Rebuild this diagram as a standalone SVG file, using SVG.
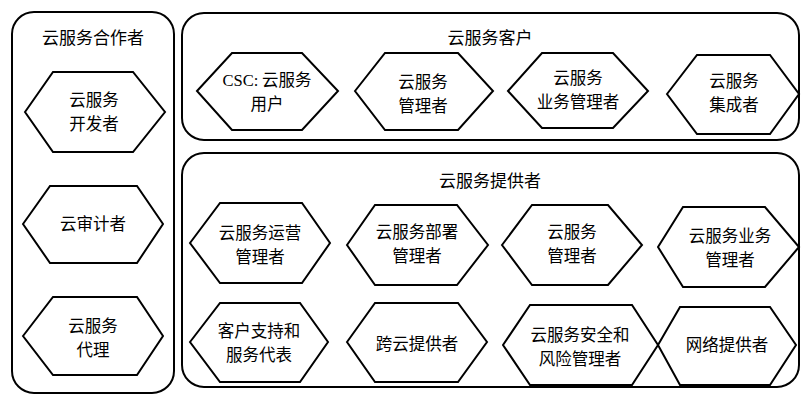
<svg xmlns="http://www.w3.org/2000/svg" width="802" height="396" viewBox="0 0 802 396">
<style>
.panel{fill:#fff;stroke:#000;stroke-width:2}
.hex{fill:#fff;stroke:#000;stroke-width:2;stroke-linejoin:miter}
text{font-family:"Noto Sans CJK SC","Liberation Sans",sans-serif;font-size:16.5px;fill:#000;text-anchor:middle}
.t{font-size:17px}
.lat{font-family:"Liberation Serif","Noto Sans CJK SC",serif}
</style>
<rect width="802" height="396" fill="#fff"/>
<g id="partners">
<rect class="panel" x="12" y="12" width="162" height="381" rx="22"/>
<text class="t" x="93" y="44">云服务合作者</text>
</g>
<g id="customers">
<rect class="panel" x="182" y="13" width="617" height="127" rx="22"/>
<text class="t" x="490" y="44">云服务客户</text>
</g>
<g id="providers">
<rect class="panel" x="182" y="153" width="617" height="234" rx="22"/>
<text class="t" x="490" y="187">云服务提供者</text>
</g>
<g id="connectors"></g>
<g id="n-dev">
<polygon class="hex" points="25,112 53,72 133,72 165,112 133,152 53,152"/>
<text x="94" y="106">云服务</text><text x="94" y="130">开发者</text>
</g>
<g id="n-audit">
<polygon class="hex" points="23,224 50,186 137,186 163,224 137,263 50,263"/>
<text x="93" y="230">云审计者</text>
</g>
<g id="n-broker">
<polygon class="hex" points="23,336 53,297 137,297 163,336 137,375 53,375"/>
<text x="93" y="332">云服务</text><text x="93" y="356">代理</text>
</g>
<g id="n-csc">
<polygon class="hex" points="197,91 232,53 302,53 338,91 302,130 232,130"/>
<text x="267" y="86"><tspan class="lat">CSC:</tspan> 云服务</text><text x="267" y="110">用户</text>
</g>
<g id="n-csc-admin">
<polygon class="hex" points="355,91 385,53 458,53 493,91 458,130 385,130"/>
<text x="423" y="88">云服务</text><text x="423" y="112">管理者</text>
</g>
<g id="n-csc-biz">
<polygon class="hex" points="508,91 542,53 613,53 648,91 613,128 542,128"/>
<text x="578" y="84">云服务</text><text x="578" y="108">业务管理者</text>
</g>
<g id="n-csc-int">
<polygon class="hex" points="667,94 697,55 770,55 799,94 770,134 697,134"/>
<text x="734" y="87">云服务</text><text x="734" y="111">集成者</text>
</g>
<g id="n-ops">
<polygon class="hex" points="190,243 220,203 302,203 330,243 302,283 220,283"/>
<text x="260" y="239">云服务运营</text><text x="260" y="263">管理者</text>
</g>
<g id="n-deploy">
<polygon class="hex" points="347,245 375,205 457,205 488,245 457,285 375,285"/>
<text x="417" y="238">云服务部署</text><text x="417" y="262">管理者</text>
</g>
<g id="n-csp-admin">
<polygon class="hex" points="502,245 532,205 608,205 642,245 608,285 532,285"/>
<text x="572" y="238">云服务</text><text x="572" y="262">管理者</text>
</g>
<g id="n-csp-biz">
<polygon class="hex" points="658,247 683,207 765,207 799,247 765,287 683,287"/>
<text x="730" y="242">云服务业务</text><text x="730" y="266">管理者</text>
</g>
<g id="n-support">
<polygon class="hex" points="190,342 220,303 300,303 328,342 300,382 220,382"/>
<text x="259" y="337">客户支持和</text><text x="259" y="361">服务代表</text>
</g>
<g id="n-inter">
<polygon class="hex" points="347,342 375,303 458,303 487,342 458,382 375,382"/>
<text x="417" y="350">跨云提供者</text>
</g>
<g id="n-security">
<polygon class="hex" points="503,345 530,305 632,305 658,345 632,385 530,385"/>
<text x="580" y="341">云服务安全和</text><text x="580" y="365">风险管理者</text>
</g>
<g id="n-network">
<polygon class="hex" points="658,345 680,307 770,307 796,345 770,385 680,385"/>
<text x="727" y="351">网络提供者</text>
</g>
</svg>
